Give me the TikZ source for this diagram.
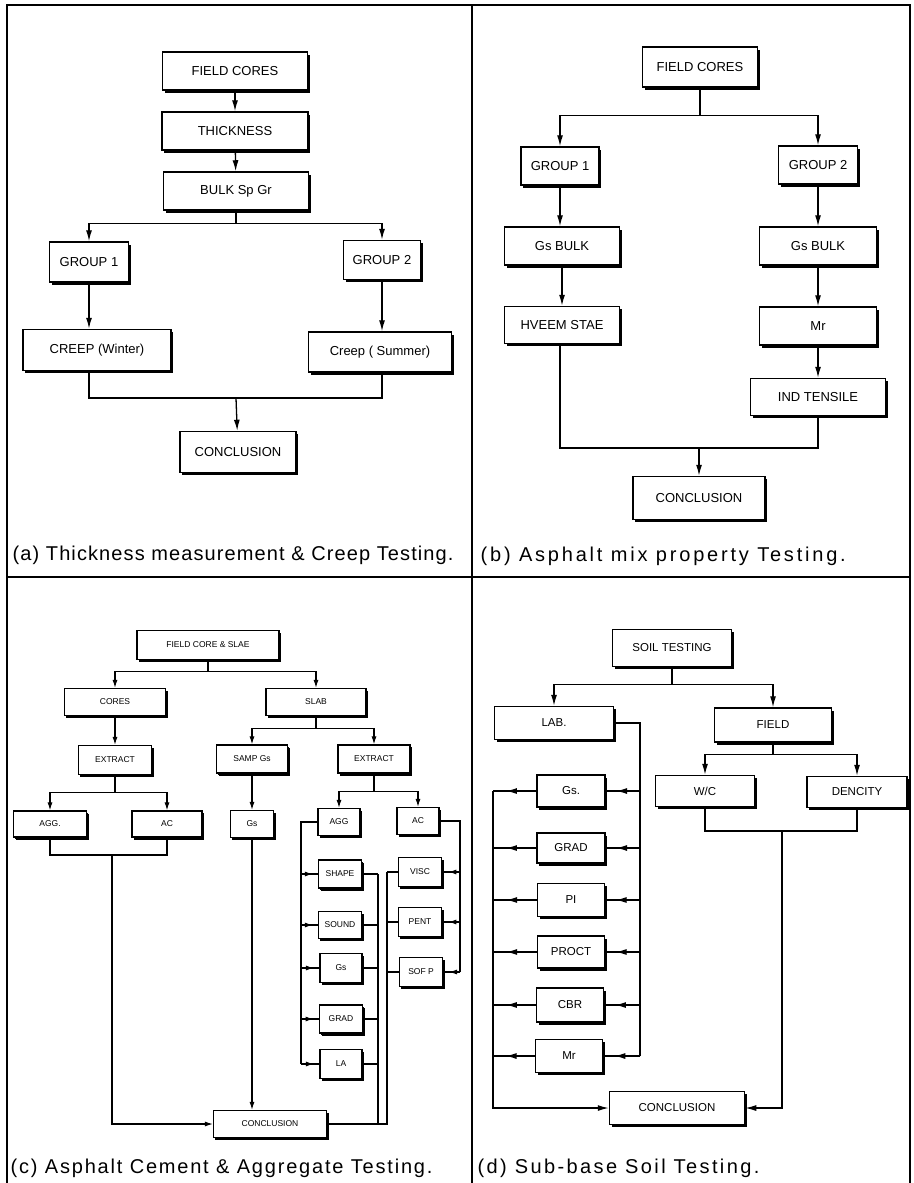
\documentclass[tikz,border=0pt]{standalone}
\usepackage{fontspec}
\setmainfont{Liberation Sans}
\newfontfamily\capfont{Liberation Sans}
\usetikzlibrary{arrows.meta,shadows,calc}

\tikzset{
  box/.style={draw,line width=1.5pt,fill=white,inner sep=1pt,
    drop shadow={shadow xshift=2pt,shadow yshift=-2.5pt,fill=black,opacity=1}},
  smallbox/.style={box,line width=1.2pt,font=\fontsize{8.5}{9}\selectfont,
    drop shadow={shadow xshift=1.5pt,shadow yshift=-2pt,fill=black,opacity=1}},
  arr/.style={-{Latex[length=11pt,width=6pt]}},
  sarr/.style={-{Latex[length=8pt,width=5pt]}},
  frame/.style={line width=1.8pt},
  capt/.style={anchor=west,inner sep=0pt,font=\capfont\fontsize{20}{22}\selectfont}
}

\begin{document}
\begin{tikzpicture}[x=1pt,y=-1pt,line width=1.3pt]
\useasboundingbox (0,0) rectangle (913,1183);
\draw[frame] (7,1183) -- (7,5) -- (910,5) -- (910,1183);
\draw[frame] (472,5) -- (472,1183);
\draw[frame] (7,577) -- (910,577);

% (a)
\begin{scope}[every node/.style={box,font=\fontsize{13}{14}\selectfont}]
  \node[minimum width=145,minimum height=38] (aFC) at (235,71) {FIELD CORES};
  \node[minimum width=146,minimum height=38] (aTH) at (235,131) {THICKNESS};
  \node[minimum width=145,minimum height=38] (aBSG) at (236,191) {BULK Sp Gr};
  \node[minimum width=79,minimum height=40] (aG1) at (89,262) {GROUP 1};
  \node[minimum width=77,minimum height=39] (aG2) at (382,260) {GROUP 2};
  \node[minimum width=148,minimum height=41] (aCW) at (97,350) {CREEP (Winter)};
  \node[minimum width=143,minimum height=40] (aCS) at (380,352) {Creep ( Summer)};
  \node[minimum width=116,minimum height=41] (aCON) at (238,452) {CONCLUSION};
\end{scope}
\coordinate (aJ) at (236,398);
\draw[arr] (aFC) -- (aTH);
\draw[arr] (aTH) -- (aBSG);
\draw[arr] (aBSG.south) -- ++(0,13) -| (aG1.north);
\draw[arr] (aBSG.south) -- ++(0,13) -| (aG2.north);
\draw[arr] (aG1.south) -- (aG1.south |- aCW.north);
\draw[arr] (aG2.south) -- (aG2.south |- aCS.north);
\draw (aG1.south |- aCW.south) |- (aJ) -| (aG2.south |- aCS.south);
\draw[arr] (aJ) -- (aCON);
\node[capt] (aCAP) at (12,555) {\addfontfeature{LetterSpace=5.5}(a) Thickness measurement \& Creep Testing.};

% (b)
\begin{scope}[every node/.style={box,font=\fontsize{13}{14}\selectfont}]
  \node[minimum width=115,minimum height=40] (bFC) at (700,67) {FIELD CORES};
  \node[minimum width=78,minimum height=38] (bG1) at (560,166) {GROUP 1};
  \node[minimum width=79,minimum height=38] (bG2) at (818,165) {GROUP 2};
  \node[minimum width=115,minimum height=38] (bGB1) at (562,246) {Gs BULK};
  \node[minimum width=117,minimum height=38] (bGB2) at (818,246) {Gs BULK};
  \node[minimum width=115,minimum height=37] (bHV) at (562,325) {HVEEM STAE};
  \node[minimum width=117,minimum height=38] (bMR) at (818,326) {M\textsc{r}};
  \node[minimum width=135,minimum height=37] (bIT) at (818,397) {IND TENSILE};
  \node[minimum width=132,minimum height=43] (bCON) at (699,498) {CONCLUSION};
\end{scope}
\coordinate (bJ) at (699,448);
\draw[arr] (bFC.south) -- ++(0,28) -| (bG1.north);
\draw[arr] (bFC.south) -- ++(0,28) -| (bG2.north);
\draw[arr] (bG1.south) -- (bG1.south |- bGB1.north);
\draw[arr] (bGB1) -- (bHV);
\draw[arr] (bG2) -- (bGB2);
\draw[arr] (bGB2) -- (bMR);
\draw[arr] (bMR) -- (bIT);
\draw (bG1.south |- bHV.south) |- (bJ) -| (bIT.south);
\draw[arr] (bJ) -- (bCON);
\node[capt] (bCAP) at (480,556) {\addfontfeature{LetterSpace=14}(b) Asphalt mix property Testing.};

% (c)
\begin{scope}[every node/.style={smallbox}]
  \node[minimum width=142,minimum height=29] (cFCS) at (208,645) {FIELD CORE \& SLAE};
  \node[minimum width=101,minimum height=27] (cCOR) at (115,702) {CORES};
  \node[minimum width=100,minimum height=27] (cSLB) at (316,702) {SLAB};
  \node[minimum width=73,minimum height=29] (cEXL) at (115,760) {EXTRACT};
  \node[minimum width=71,minimum height=28] (cSMP) at (252,759) {SAMP Gs};
  \node[minimum width=72,minimum height=28] (cEXR) at (374,759) {EXTRACT};
  \node[minimum width=73,minimum height=26] (cAGL) at (50,824) {AGG.};
  \node[minimum width=70,minimum height=26] (cACL) at (167,824) {AC};
  \node[minimum width=43,minimum height=27] (cGS) at (252,824) {Gs};
  \node[minimum width=42,minimum height=27] (cAGR) at (339,822) {AGG};
  \node[minimum width=42,minimum height=27] (cACR) at (418,821) {AC};
  \node[minimum width=43,minimum height=28] (cSHP) at (340,874) {SHAPE};
  \node[minimum width=43,minimum height=27] (cSND) at (340,925) {SOUND};
  \node[minimum width=42,minimum height=29] (cGS2) at (341,968) {Gs};
  \node[minimum width=43,minimum height=28] (cGRD) at (341,1019) {GRAD};
  \node[minimum width=42,minimum height=29] (cLA) at (341,1064) {LA};
  \node[minimum width=43,minimum height=29] (cVIS) at (420,872) {VISC};
  \node[minimum width=43,minimum height=29] (cPEN) at (420,922) {PENT};
  \node[minimum width=43,minimum height=29] (cSOF) at (421,972) {SOF P};
  \node[minimum width=113,minimum height=27] (cCON) at (270,1124) {CONCLUSION};
\end{scope}
\coordinate (cJ1) at (112,855);
\coordinate (cB1) at (301,0);
\coordinate (cB2) at (378,0);
\coordinate (cB3) at (460,0);
\coordinate (cB4) at (387,0);
\begin{scope}[line width=1.1pt]
\draw[sarr] (cFCS.south) -- ++(0,11) -| (cCOR.north);
\draw[sarr] (cFCS.south) -- ++(0,11) -| (cSLB.north);
\draw[sarr] (cCOR) -- (cEXL);
\draw[sarr] (cEXL.south) -- ++(0,17) -| (cAGL.north);
\draw[sarr] (cEXL.south) -- ++(0,17) -| (cACL.north);
\draw[sarr] (cSLB.south) -- ++(0,12) -| (cSMP.north);
\draw[sarr] (cSLB.south) -- ++(0,12) -| (cEXR.north);
\draw[sarr] (cSMP) -- (cGS);
\draw[sarr] (cEXR.south) -- ++(0,18) -| (cAGR.north);
\draw[sarr] (cEXR.south) -- ++(0,18) -| (cACR.north);
\draw (cAGL.south) |- (cJ1) -| (cACL.south);
\draw[sarr] (cJ1) |- (cCON.west);
\draw[sarr] (cGS.south) -- (cGS.south |- cCON.north);
\draw (cAGR.west) -| (cB1 |- cLA.west);
\foreach \n in {cSHP,cSND,cGS2,cGRD,cLA}{
  \draw[sarr] (cB1 |- \n.west) -- ($(cB1 |- \n.west)!0.7!(\n.west)$);
  \draw (cB1 |- \n.west) -- (\n.west);
  \draw (\n.east) -- (cB2 |- \n.east);
}
\draw (cB2 |- cSHP.east) -- (cB2 |- cCON.east);
\draw (cACR.east) -| (cB3 |- cSOF.east);
\foreach \n in {cVIS,cPEN,cSOF}{
  \draw[sarr] (cB3 |- \n.east) -- ($(cB3 |- \n.east)!0.65!(\n.east)$);
  \draw (cB3 |- \n.east) -- (\n.east);
  \draw (\n.west) -- (cB4 |- \n.west);
}
\draw (cCON.east) -- (cB4 |- cCON.east) -- (cB4 |- cVIS.west);
\end{scope}
\node[capt] (cCAP) at (10,1168) {\addfontfeature{LetterSpace=9}(c) Asphalt Cement \& Aggregate Testing.};

% (d)
\begin{scope}[every node/.style={box,font=\fontsize{11.5}{12}\selectfont}]
  \node[minimum width=119,minimum height=37] (dST) at (672,648) {SOIL TESTING};
  \node[minimum width=119,minimum height=33] (dLAB) at (554,723) {LAB.};
  \node[minimum width=117,minimum height=34] (dFLD) at (773,725) {FIELD};
  \node[minimum width=68,minimum height=32] (dGS) at (571,791) {Gs.};
  \node[minimum width=68,minimum height=30] (dGRD) at (571,848) {GRAD};
  \node[minimum width=67,minimum height=33] (dPI) at (571,900) {PI};
  \node[minimum width=67,minimum height=32] (dPRO) at (571,952) {PROCT};
  \node[minimum width=67,minimum height=34] (dCBR) at (570,1005) {CBR};
  \node[minimum width=67,minimum height=33] (dMR) at (569,1056) {M\textsc{r}};
  \node[minimum width=99,minimum height=31] (dWC) at (705,791) {W/C};
  \node[minimum width=100,minimum height=31] (dDEN) at (857,792) {DENCITY};
  \node[minimum width=135,minimum height=33] (dCON) at (677,1108) {CONCLUSION};
\end{scope}
\coordinate (dL) at (493,0);
\coordinate (dR) at (640,0);
\coordinate (dJ) at (782,831);
\draw[arr] (dST.south) -- ++(0,17) -| (dLAB.north);
\draw[arr] (dST.south) -- ++(0,17) -| (dFLD.north);
\draw (dLAB.east) -| (dR |- dMR.east);
\foreach \n in {dGS,dGRD,dPI,dPRO,dCBR,dMR}{
  \draw[arr] (dR |- \n.east) -- ($(dR |- \n.east)!0.7!(\n.east)$);
  \draw (dR |- \n.east) -- (\n.east);
  \draw[arr] (\n.west) -- ($(\n.west)!0.7!(dL |- \n.west)$);
  \draw (\n.west) -- (dL |- \n.west);
}
\draw[arr] (dL |- dGS.west) |- (dCON.west);
\draw[arr] (dFLD.south) -- ++(0,12) -| (dWC.north);
\draw[arr] (dFLD.south) -- ++(0,12) -| (dDEN.north);
\draw (dWC.south) |- (dJ) -| (dDEN.south);
\draw[arr] (dJ) |- (dCON.east);
\node[capt] (dCAP) at (477,1168) {\addfontfeature{LetterSpace=12}(d) Sub-base Soil Testing.};
\end{tikzpicture}
\end{document}
